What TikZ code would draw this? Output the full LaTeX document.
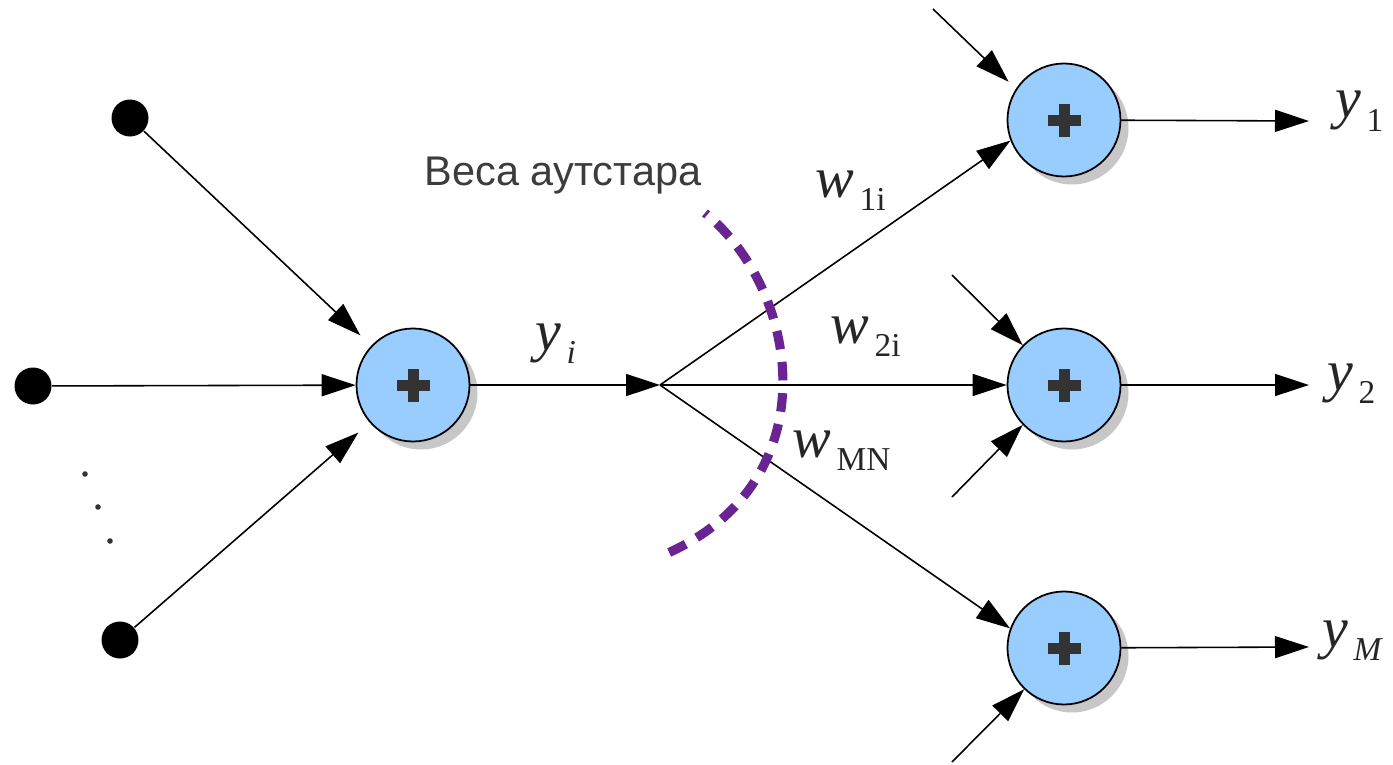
\documentclass[tikz,border=0pt]{standalone}
\usepackage{fontspec}
\setmainfont{Liberation Serif}
\newfontfamily\labelsans{Liberation Sans}
\usetikzlibrary{arrows.meta,shadows,calc}
\definecolor{sumblue}{HTML}{99CCFF}
\definecolor{plusgray}{HTML}{333333}
\definecolor{arcpurple}{HTML}{6A2392}
\definecolor{textgray}{HTML}{3C3C3C}
\definecolor{labelblack}{HTML}{262626}

% letter with a lowered index
\newcommand{\idxlabel}[2]{{\fontsize{16.5}{16}\selectfont\itshape #1}\kern1.5pt\raisebox{-3.8pt}{\fontsize{9.5}{10}\selectfont #2}}

\begin{document}
\begin{tikzpicture}[
    sum/.style={circle, draw, line width=0.5pt, fill=sumblue, minimum size=1.13cm, inner sep=0pt,
        drop shadow={shadow xshift=0.08cm, shadow yshift=-0.08cm, fill=black!22, opacity=1}},
    dot/.style={circle, fill=black, minimum size=0.37cm, inner sep=0pt},
    arrow/.style={-{Triangle[length=0.34cm, width=0.22cm]}, line width=0.45pt},
    lbl/.style={anchor=base west, inner sep=0pt, text=labelblack},
]
\useasboundingbox (0,0) rectangle (13.93,7.64);

% === Inputs -> hidden neuron ===
\node[dot] (in1) at (1.30,6.46) {};
\node[dot] (in2) at (0.33,3.78) {};
\node[dot] (in3) at (1.20,1.24) {};
\node[sum] (sum) at (4.13,3.79) {};
\coordinate (fork) at (6.60,3.79);

\draw[arrow, shorten >=0.15cm] (in1) -- (sum);
\draw[arrow] (in2) -- (sum);
\draw[arrow, shorten >=0.15cm] (in3) -- (sum);
\draw[arrow] (sum) -- (fork);

% dots between the inputs
\foreach \x/\y in {0.85/2.90, 0.98/2.57, 1.10/2.23}
    \fill[plusgray] (\x,\y) circle (0.028);

% === Outstar layer ===
\node[sum] (out1) at (10.64,6.44) {};
\node[sum] (out2) at (10.64,3.79) {};
\node[sum] (out3) at (10.64,1.16) {};

\draw[arrow] (fork) -- (out1.201);
\draw[arrow] (fork) -- (out2);
\draw[arrow] (fork) -- (out3.160);

% other inputs of the output neurons
\coordinate (ext1) at (9.33,7.55);
\coordinate (ext2a) at (9.52,4.89);
\coordinate (ext2b) at (9.52,2.67);
\coordinate (ext3) at (9.52,0.02);
\draw[arrow, shorten >=0.1cm] (ext1) -- (out1.147);
\draw[arrow] (ext2a) -- (out2.136);
\draw[arrow] (ext2b) -- (out2.224);
\draw[arrow] (ext3) -- (out3.226);

% outputs
\coordinate (o1) at (13.09,6.43);
\coordinate (o2) at (13.09,3.79);
\coordinate (o3) at (13.09,1.17);
\draw[arrow] (out1) -- (o1);
\draw[arrow] (out2) -- (o2);
\draw[arrow] (out3) -- (o3);

% plus signs
\foreach \n in {sum,out1,out2,out3} {
    \fill[plusgray] ($(\n)+(-0.165,-0.055)$) rectangle ++(0.33,0.11);
    \fill[plusgray] ($(\n)+(-0.055,-0.165)$) rectangle ++(0.11,0.33);
}

% outstar weights arc
\draw[arcpurple, line width=2.6pt, dash pattern=on 5.3pt off 3.6pt, dash phase=4.5pt]
    (7.05,5.51) .. controls (8.00,4.74) and (8.30,2.84) .. (6.68,2.11);

% labels
\node[anchor=base, inner sep=0pt, text=textgray, font=\labelsans\fontsize{11.8}{13}\selectfont] (title) at (5.63,5.79) {Веса аутстара};
\node[lbl] (lyi) at (5.35,4.14) {\idxlabel{y}{\itshape i}};
\node[lbl] (lw1) at (8.15,5.67) {\idxlabel{w}{1i}};
\node[lbl] (lw2) at (8.30,4.21) {\idxlabel{w}{2i}};
\node[lbl] (lwmn) at (7.92,3.07) {\idxlabel{w}{MN}};
\node[lbl] (ly1) at (13.35,6.46) {\idxlabel{y}{1}};
\node[lbl] (ly2) at (13.27,3.74) {\idxlabel{y}{2}};
\node[lbl] (lym) at (13.22,1.17) {\idxlabel{y}{\itshape M}};

\end{tikzpicture}
\end{document}
